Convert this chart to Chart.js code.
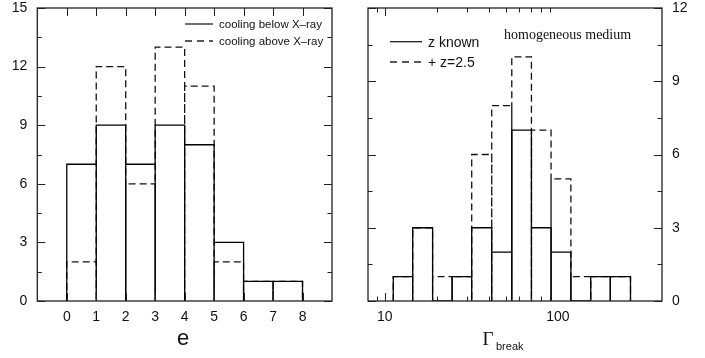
<!DOCTYPE html>
<html>
<head>
<meta charset="utf-8">
<script src="https://cdn.jsdelivr.net/npm/chart.js@4.4.0/dist/chart.umd.min.js"></script>
<style>
  html, body { margin: 0; padding: 0; background: #fff; }
  #wrap { position: relative; width: 705px; height: 358px; }
  #chartE { position: absolute; left: 0; top: 0; }
  #chartG { position: absolute; left: 352px; top: 0; }
</style>
</head>
<body>
<div id="wrap">
  <canvas id="chartE" width="352" height="358"></canvas>
  <canvas id="chartG" width="353" height="358"></canvas>
</div>
<script>
// left panel: e histogram
const eEdges = [0, 1, 2, 3, 4, 5, 6, 7, 8];
const eBelow = [7, 9, 7, 9, 8, 3, 1, 1];
const eAbove = [2, 12, 6, 13, 11, 2, 1, 1];
const eTicks = [0, 1, 2, 3, 4, 5, 6, 7, 8];
const eCountMajor = [0, 3, 6, 9, 12, 15];
const eCountMinor = [1.5, 4.5, 7.5, 10.5, 13.5];

// right panel: Gamma_break histogram (log bins)
const gEdges = [11.2, 14.5, 18.9, 24.5, 31.8, 41.5, 54.2, 70.4, 91.4, 119, 155, 201, 263];
const gKnown = [1, 3, 0, 1, 3, 2, 7, 3, 2, 0, 1, 1];
const gAssumed = [1, 3, 1, 1, 6, 8, 10, 7, 5, 1, 1, 1];
const gLabels = [10, 100];
const gMajor = [10];
const gMinor = [9, 20, 30, 40, 50, 60, 70, 80, 90];
const gCountMajor = [0, 3, 6, 9, 12];
const gCountMinor = [1.5, 4.5, 7.5, 10.5];

const sans = 'Liberation Sans, Arial, sans-serif';
const serif = 'Liberation Serif, Times New Roman, serif';

// trace each bin as a closed bar outline
function outline(edges, counts) {
  let pts = [];
  for (let i = 0; i < counts.length; i++) {
    pts.push({x: edges[i], y: 0});
    pts.push({x: edges[i], y: counts[i]});
    pts.push({x: edges[i + 1], y: counts[i]});
    pts.push({x: edges[i + 1], y: 0});
  }
  return pts;
}

// no extra room for overhanging tick labels, the frame sits where padding says
function noPad(s) {
  s.paddingTop = 0; s.paddingBottom = 0; s.paddingLeft = 0; s.paddingRight = 0;
}

const frameTicks = {
  id: 'frameTicks',
  afterDatasetsDraw(chart, args, o) {
    const ctx = chart.ctx;
    const a = chart.chartArea;
    const x = chart.scales.x, y = chart.scales.y;
    ctx.save();
    ctx.strokeStyle = '#222';
    ctx.lineWidth = 1;
    ctx.beginPath();
    const xt = (vals, len) => vals.forEach(v => {
      let px = Math.round(x.getPixelForValue(v)) + 0.5;
      ctx.moveTo(px, a.top); ctx.lineTo(px, a.top + len);
      ctx.moveTo(px, a.bottom); ctx.lineTo(px, a.bottom - len);
    });
    const yt = (vals, len) => vals.forEach(v => {
      let py = Math.round(y.getPixelForValue(v)) + 0.5;
      ctx.moveTo(a.left, py); ctx.lineTo(a.left + len, py);
      ctx.moveTo(a.right, py); ctx.lineTo(a.right - len, py);
    });
    xt(o.xMajor || [], 8);
    xt(o.xMinor || [], 4.5);
    yt(o.yMajor || [], 8);
    yt(o.yMinor || [], 4.5);
    ctx.stroke();
    ctx.lineWidth = 1.3;
    ctx.strokeRect(a.left, a.top, a.right - a.left, a.bottom - a.top);

    // legend and labels
    ctx.fillStyle = '#111';
    ctx.textBaseline = 'alphabetic';
    (o.legend || []).forEach(l => {
      ctx.beginPath();
      ctx.lineWidth = 1.3;
      ctx.setLineDash(l.dash);
      ctx.moveTo(l.x0, l.y); ctx.lineTo(l.x1, l.y);
      ctx.stroke();
      ctx.setLineDash([]);
      ctx.font = l.font;
      ctx.fillText(l.text, l.x1 + 6, l.y + l.dy);
    });
    (o.texts || []).forEach(t => {
      ctx.font = t.font;
      ctx.textAlign = t.align || 'left';
      ctx.fillText(t.text, t.x, t.y);
    });
    ctx.restore();
  }
};

const common = {
  responsive: false,
  animation: false,
  events: [],
};

new Chart(document.getElementById('chartE'), {
  type: 'scatter',
  data: {
    datasets: [
      {label: 'cooling below X-ray', data: outline(eEdges, eBelow), showLine: true,
       borderColor: '#000', borderWidth: 1.3, pointRadius: 0, tension: 0},
      {label: 'cooling above X-ray', data: outline(eEdges, eAbove), showLine: true,
       borderColor: '#111', borderWidth: 1.3, borderDash: [7, 4], pointRadius: 0, tension: 0}
    ]
  },
  options: Object.assign({}, common, {
    layout: {padding: {left: 0, top: 8, right: 20, bottom: 0}},
    plugins: {
      legend: {display: false},
      tooltip: {enabled: false},
      frameTicks: {
        xMajor: eTicks, yMajor: eCountMajor, yMinor: eCountMinor,
        legend: [
          {x0: 185, x1: 213, y: 24, dash: [], text: 'cooling below X\u2013ray', font: '11.5px ' + sans, dy: 4},
          {x0: 185, x1: 213, y: 41, dash: [7, 5], text: 'cooling above X\u2013ray', font: '11.5px ' + sans, dy: 4}
        ],
        texts: [
          {text: 'e', x: 183, y: 345, font: '22px ' + sans, align: 'center'}
        ]
      }
    },
    scales: {
      x: {
        type: 'linear', min: -1, max: 9,
        grid: {display: false, drawTicks: false}, border: {display: false},
        afterBuildTicks: s => { s.ticks = eTicks.map(v => ({value: v})); },
        afterFit: s => { s.height = 57; noPad(s); },
        ticks: {color: '#111', font: {family: sans, size: 14}, padding: 8, maxRotation: 0, autoSkip: false}
      },
      y: {
        min: 0, max: 15,
        grid: {display: false, drawTicks: false}, border: {display: false},
        afterBuildTicks: s => { s.ticks = eCountMajor.map(v => ({value: v})); },
        afterFit: s => { s.width = 37.3; noPad(s); },
        ticks: {color: '#111', font: {family: sans, size: 14}, padding: 10}
      }
    }
  }),
  plugins: [frameTicks]
});

new Chart(document.getElementById('chartG'), {
  type: 'scatter',
  data: {
    datasets: [
      {label: 'z known', data: outline(gEdges, gKnown), showLine: true,
       borderColor: '#000', borderWidth: 1.3, pointRadius: 0, tension: 0},
      {label: '+ z=2.5', data: outline(gEdges, gAssumed), showLine: true,
       borderColor: '#111', borderWidth: 1.3, borderDash: [7, 4], pointRadius: 0, tension: 0}
    ]
  },
  options: Object.assign({}, common, {
    layout: {padding: {left: 16, top: 8, right: 0, bottom: 0}},
    plugins: {
      legend: {display: false},
      tooltip: {enabled: false},
      frameTicks: {
        xMajor: gMajor, xMinor: gMinor, yMajor: gCountMajor, yMinor: gCountMinor,
        legend: [
          {x0: 38, x1: 70, y: 41.7, dash: [], text: 'z known', font: '14px ' + sans, dy: 5},
          {x0: 38, x1: 70, y: 62, dash: [7, 5], text: '+ z=2.5', font: '14px ' + sans, dy: 5}
        ],
        texts: [
          {text: 'homogeneous medium', x: 152, y: 39, font: '14px ' + serif},
          {text: '\u0393', x: 136, y: 345, font: '19px ' + serif, align: 'center'},
          {text: 'break', x: 144, y: 350, font: '11px ' + sans}
        ]
      }
    },
    scales: {
      x: {
        type: 'logarithmic', min: 8, max: 400,
        grid: {display: false, drawTicks: false}, border: {display: false},
        afterBuildTicks: s => { s.ticks = gLabels.map(v => ({value: v})); },
        afterFit: s => { s.height = 57; noPad(s); },
        ticks: {color: '#111', font: {family: sans, size: 14}, padding: 8, maxRotation: 0, autoSkip: false,
                callback: v => String(v)}
      },
      y: {
        position: 'right', min: 0, max: 12,
        grid: {display: false, drawTicks: false}, border: {display: false},
        afterBuildTicks: s => { s.ticks = gCountMajor.map(v => ({value: v})); },
        afterFit: s => { s.width = 43; noPad(s); },
        ticks: {color: '#111', font: {family: sans, size: 14}, padding: 10}
      }
    }
  }),
  plugins: [frameTicks]
});
</script>
</body>
</html>
